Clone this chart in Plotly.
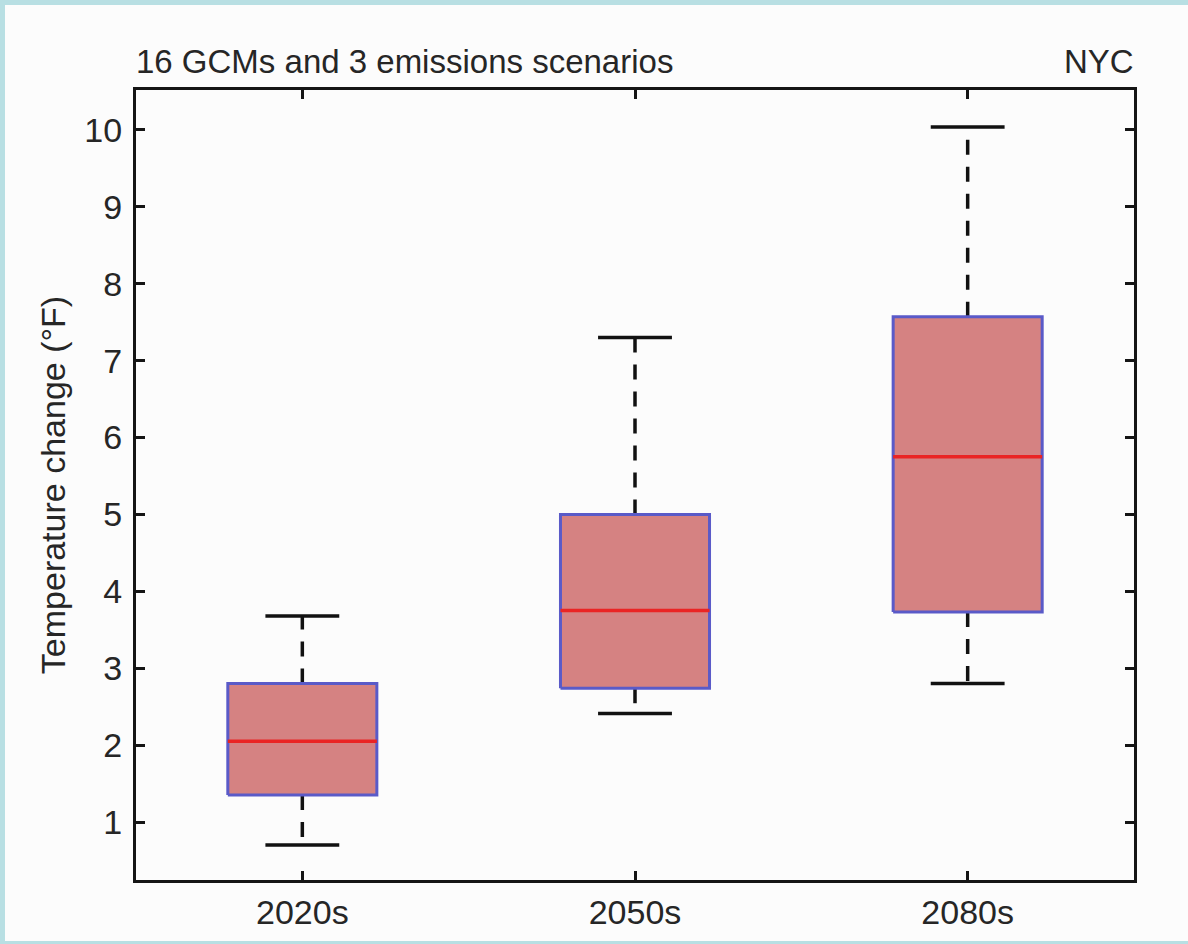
import plotly.graph_objects as go

categories = ["2020s", "2050s", "2080s"]
lower_whisker = [0.70, 2.41, 2.80]
q1 = [1.35, 2.74, 3.73]
median = [2.05, 3.75, 5.75]
q3 = [2.80, 5.00, 7.57]
upper_whisker = [3.68, 7.30, 10.04]
y_ticks = [1, 2, 3, 4, 5, 6, 7, 8, 9, 10]

BOX_HALF = 0.224
CAP_HALF = 0.111
FONT = "Liberation Sans, Arial, Helvetica, sans-serif"
TXT = "#262626"
FS = 34

box_x, box_y = [], []
med_x, med_y = [], []
wh_x, wh_y = [], []
cap_x, cap_y = [], []
for i in range(len(categories)):
    l, r = i - BOX_HALF, i + BOX_HALF
    box_x += [l, r, r, l, l, None]
    box_y += [q1[i], q1[i], q3[i], q3[i], q1[i], None]
    med_x += [l, r, None]
    med_y += [median[i], median[i], None]
    wh_x += [i, i, None, i, i, None]
    wh_y += [q3[i], upper_whisker[i], None, q1[i], lower_whisker[i], None]
    cap_x += [i - CAP_HALF, i + CAP_HALF, None, i - CAP_HALF, i + CAP_HALF, None]
    cap_y += [upper_whisker[i], upper_whisker[i], None, lower_whisker[i], lower_whisker[i], None]

fig = go.Figure()
fig.add_trace(go.Scatter(x=wh_x, y=wh_y, mode="lines",
                         line=dict(color="#111111", width=3.5, dash="15px,12px"),
                         hoverinfo="skip", showlegend=False))
fig.add_trace(go.Scatter(x=cap_x, y=cap_y, mode="lines",
                         line=dict(color="#111111", width=3.5),
                         hoverinfo="skip", showlegend=False))
fig.add_trace(go.Scatter(x=box_x, y=box_y, mode="lines", fill="toself",
                         fillcolor="#d58282",
                         line=dict(color="#5a5ac8", width=3),
                         hoverinfo="skip", showlegend=False))
fig.add_trace(go.Scatter(x=med_x, y=med_y, mode="lines",
                         line=dict(color="#ea2424", width=3.5),
                         hoverinfo="skip", showlegend=False))

W, H = 1188, 944
ml, mr, mt, mb = 136, 54, 90, 64
pw, ph = W - ml - mr, H - mt - mb

def px_to_paper_x(px):
    return (px - ml) / pw

def px_to_paper_y(py):
    return (H - mb - py) / ph

fig.add_shape(type="rect", xref="paper", yref="paper", layer="below",
              x0=px_to_paper_x(5), x1=px_to_paper_x(W + 10),
              y0=px_to_paper_y(941), y1=px_to_paper_y(5),
              fillcolor="#fcfcfc", line=dict(width=0))

fig.add_annotation(text="16 GCMs and 3 emissions scenarios", xref="paper", yref="paper",
                   x=0, y=1, xanchor="left", yanchor="bottom", yshift=8, xshift=-2,
                   showarrow=False, font=dict(family=FONT, size=33, color=TXT))
fig.add_annotation(text="NYC", xref="paper", yref="paper",
                   x=1, y=1, xanchor="right", yanchor="bottom", yshift=8, xshift=2,
                   showarrow=False, font=dict(family=FONT, size=33, color=TXT))

fig.update_layout(
    width=W, height=H,
    margin=dict(l=ml, r=mr, t=mt, b=mb),
    paper_bgcolor="#b8dfe3",
    plot_bgcolor="#fcfcfc",
    font=dict(family=FONT, size=FS, color=TXT),
    xaxis=dict(range=[-0.5, 2.5], tickvals=list(range(len(categories))), ticktext=categories,
               showgrid=False, zeroline=False, showline=True, linecolor="#151515", linewidth=3,
               mirror="ticks", ticks="inside", ticklen=9, tickwidth=2.5, tickcolor="#151515",
               tickfont=dict(size=FS, color=TXT)),
    yaxis=dict(range=[0.246, 10.52], tickvals=y_ticks,
               showgrid=False, zeroline=False, showline=True, linecolor="#151515", linewidth=3,
               mirror="ticks", ticks="inside", ticklen=9, tickwidth=2.5, tickcolor="#151515",
               tickfont=dict(size=FS, color=TXT), ticklabelstandoff=4,
               title=dict(text="Temperature change (°F)", standoff=9,
                          font=dict(size=FS, color=TXT))),
)

fig.write_html("out.html", config={"displayModeBar": False},
               post_script="document.body.style.margin='0';")
